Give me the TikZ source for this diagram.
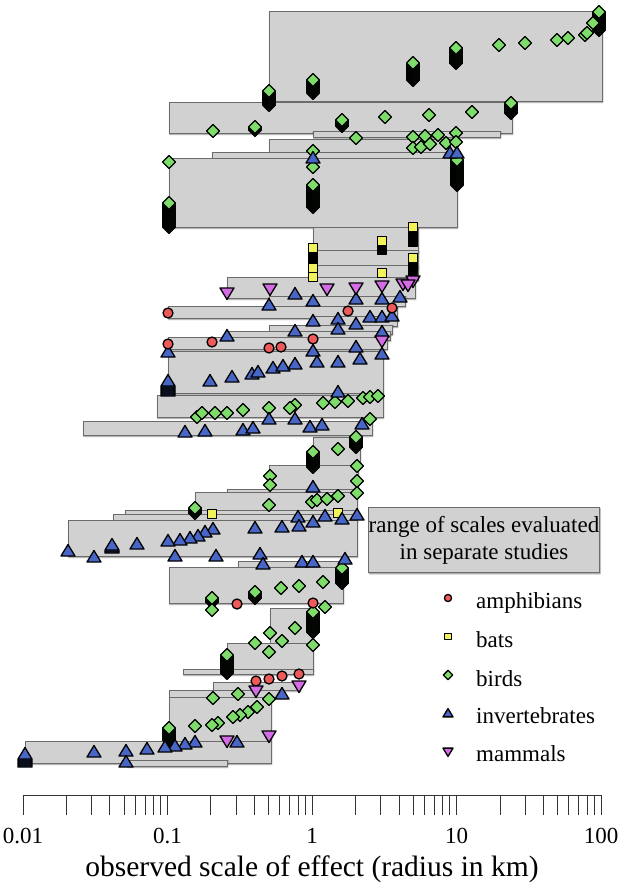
\documentclass[tikz,border=0pt]{standalone}
\usepackage{fontspec}
\setmainfont{Liberation Serif}
\usepackage{xcolor}
\usetikzlibrary{positioning, shadows.blur}
\definecolor{amphred}{HTML}{EE5A5A}
\definecolor{batyellow}{HTML}{F2F25C}
\definecolor{birdgreen}{HTML}{7EDC6A}
\definecolor{invblue}{HTML}{4866C6}
\definecolor{mammviolet}{HTML}{D46CE6}
\tikzset{
    mk/.style={draw=black, line width=1.3pt, line join=round}, % outline of every marker
    studybox/.style={draw=black!58, fill=black!18, line width=0.8pt,
        blur shadow={shadow xshift=0.8pt, shadow yshift=-1.4pt, shadow blur radius=1.2pt, shadow opacity=50}}, % one study
    tick/.style={draw=black!80, line width=1pt},
    ticklab/.style={font=\fontsize{23}{27}\selectfont, inner sep=0},
    axtitle/.style={font=\fontsize{29.5}{33}\selectfont, inner sep=0},
    keybox/.style={studybox, minimum width=228pt, minimum height=65pt, align=center,
        font=\fontsize{23}{27}\selectfont, inner sep=0},
    keytext/.style={anchor=base west, font=\fontsize{23}{27}\selectfont, inner sep=0},
    amph/.pic={\path[mk, fill=amphred] (0,0) circle (5);},
    bat/.pic={\path[mk, fill=batyellow] (-4.5,-4.5) rectangle (4.5,4.5);},
    bird/.pic={\path[mk, fill=birdgreen] (0,-6.5) -- (6.5,0) -- (0,6.5) -- (-6.5,0) -- cycle;},
    invert/.pic={\path[mk, fill=invblue] (-7,4) -- (7,4) -- (0,-7.5) -- cycle;},
    mamm/.pic={\path[mk, fill=mammviolet] (-7,-4) -- (7,-4) -- (0,7.5) -- cycle;},
}
% markers piled on one scale, drawn from the bottom up
\newcommand{\pile}[4]{%
    \pgfmathtruncatemacro{\pn}{max(1,round(#4-#3))}%
    \foreach \k in {0,...,\pn}{%
        \pgfmathsetmacro{\py}{#4-(#4-#3)*\k/\pn}%
        \pic at (#2,\py) {#1};}}

\begin{document}
\begin{tikzpicture}[x=1pt, y=-1pt]
    \useasboundingbox (0,0) rectangle (634,890);

    % ranges of scales
    \foreach \xa/\ya/\xb/\yb in {269/11/602/101, 169/102/512/133, 313/131/500/137,
        269/139/457/156, 212/152/457/160, 169/158/457/227, 313/227/418/252,
        313/250/418/268, 313/265/418/280, 227/277/415/298, 269/296/405/306,
        168/306/397/318, 313/316/397/326, 269/325/392/334, 227/331/390/340,
        168/337/387/349, 168/351/383/393, 157/395/383/417, 83/421/372/435,
        313/437/360/465, 269/465/358/490, 227/489/358/494, 195/492/357/512,
        125/510/357/517, 113/514/357/521, 68/520/357/556, 238/561/345/568,
        169/567/343/603, 270/608/313/643, 227/643/313/670, 183/669/313/674,
        213/682/300/690, 169/690/283/697, 169/697/271/741, 25/741/271/763,
        127/760/227/766}
        \path[studybox] (\xa,\ya) rectangle (\xb,\yb);

    % birds
    \foreach \x/\a/\b in {599/12/30, 456/48/63, 413/63/80, 313/80/93, 269/91/105,
        511/103/113, 342/120/126, 255/127/130, 457/160/185, 313/185/207, 169/203/227,
        356/437/447, 313/452/467, 195/508/513, 342/568/583, 255/592/598, 212/598/602,
        313/612/632, 227/655/673, 169/728/740}
        {\pile{bird}{\x}{\a}{\b}}
    \foreach \x/\y in {499/45, 525/43, 557/40, 568/38, 585/35, 593/23, 587/33,
        472/112, 429/115, 385/117, 213/131,
        356/138, 413/137, 425/136, 438/135, 456/133, 413/148, 421/147, 430/144, 446/143, 456/142,
        313/151, 313/167, 169/162,
        197/417, 202/413, 215/413, 227/413, 243/410, 269/408, 295/405, 290/408, 323/403,
        335/402, 348/401, 363/398, 370/397, 378/396, 370/419,
        338/449, 357/466, 357/481, 357/493, 270/476, 270/485, 312/502, 317/500, 327/499,
        338/496, 269/505,
        323/582, 299/586, 281/588, 212/610, 325/607,
        295/628, 270/633, 255/643, 282/641, 269/652, 313/645,
        238/694, 213/698, 269/699, 257/707, 248/712, 240/715, 233/717, 218/723, 212/725, 195/726}
        \pic at (\x,\y) {bird};

    % bats
    \foreach \x/\a/\b in {413/227/242, 382/241/250, 313/248/260, 413/258/273}
        {\pile{bat}{\x}{\a}{\b}}
    \foreach \x/\y in {313/268, 313/277, 382/273, 212/514, 338/513}
        \pic at (\x,\y) {bat};

    % invertebrates
    \foreach \x/\a/\b in {168/382/392, 112/546/549, 25/755/763}
        {\pile{invert}{\x}{\a}{\b}}
    \foreach \x/\y in {269/306, 295/295, 313/302, 356/300, 382/300, 400/298,
        313/322, 338/320, 356/325, 370/318, 382/318, 392/317, 338/330, 295/332, 227/337, 382/333,
        168/353, 313/352, 356/348, 382/355, 317/363, 338/363, 360/360, 210/382, 232/378,
        252/375, 258/373, 273/369, 283/367, 295/365, 338/393,
        269/420, 295/420, 185/433, 205/432, 243/431, 253/429, 310/428, 322/426, 362/425,
        450/154, 457/154, 313/159, 313/488,
        298/518, 313/523, 325/517, 342/520, 357/516, 299/527, 255/529, 282/528, 213/530,
        205/533, 198/537, 190/539, 180/541, 168/542, 137/545, 68/552, 94/558, 175/557,
        216/557, 260/555, 263/565, 302/563, 313/563, 345/560,
        282/695, 237/743, 195/743, 185/745, 175/747, 165/748, 147/750, 126/752, 94/753, 126/763}
        \pic at (\x,\y) {invert};

    % amphibians
    \foreach \x/\y in {168/313, 348/311, 392/308, 168/344, 212/342, 269/348, 281/347, 313/339,
        237/604, 313/603, 256/681, 269/679, 282/676, 299/674}
        \pic at (\x,\y) {amph};

    % mammals
    \foreach \x/\y in {227/292, 270/288, 327/288, 356/287, 382/285, 403/283, 413/280, 408/284,
        382/340, 256/690, 299/685, 227/740, 269/735}
        \pic at (\x,\y) {mamm};

    % axis
    \draw[tick] (23,795) -- (601,795);
    \foreach \d in {0,...,3}
        \foreach \m in {1,...,9}
            {\pgfmathsetmacro{\tx}{23+144.5*(\d+log10(\m))}
             \draw[tick] (\tx,795) -- (\tx,815);}
    \draw[tick] (601,795) -- (601,815);
    \foreach \v [count=\i from 0] in {0.01,0.1,1,10,100}
        \node[ticklab] (tick\i) at ({23+144.5*\i},836) {\v};
    \node[axtitle] (xtitle) at (312,869) {observed scale of effect (radius in km)};

    % legend
    \node[keybox] (rangekey) at (484,540) {range of scales evaluated\\in separate studies};
    \pic[scale=0.72] at (448,598) {amph};
    \pic[scale=0.72] at (448,636.5) {bat};
    \pic[scale=0.72] at (448,675) {bird};
    \pic[scale=0.72] at (448,714) {invert};
    \pic[scale=0.72] at (448,751) {mamm};
    \node[keytext] (keyamph) at (476,608) {amphibians};
    \node[keytext] (keybat) at (476,647) {bats};
    \node[keytext] (keybird) at (476,686) {birds};
    \node[keytext] (keyinv) at (476,723) {invertebrates};
    \node[keytext] (keymamm) at (476,761) {mammals};
\end{tikzpicture}
\end{document}
